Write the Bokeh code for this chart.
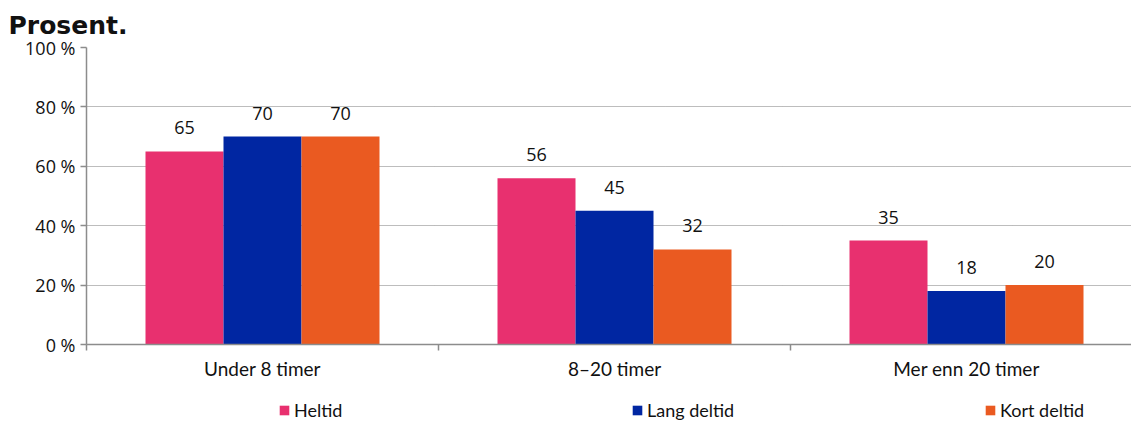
from bokeh.plotting import figure
from bokeh.layouts import column
from bokeh.models import ColumnDataSource, Range1d, FixedTicker, Legend, LegendItem, LabelSet
from bokeh.core.properties import value
from bokeh.transform import dodge
from bokeh.embed import file_html
from bokeh.resources import INLINE

categories = ["Under 8 timer", "8\u201320 timer", "Mer enn 20 timer"]
series = ["Heltid", "Lang deltid", "Kort deltid"]
heltid = [65, 56, 35]
lang_deltid = [70, 45, 18]
kort_deltid = [70, 32, 20]
colors = ["#E8306F", "#0026A2", "#EA5A21"]
y_ticks = [0, 20, 40, 60, 80, 100]
y_tick_labels = ["0 %", "20 %", "40 %", "60 %", "80 %", "100 %"]

centers = [i + 0.5 for i in range(len(categories))]
src = ColumnDataSource(dict(
    x=centers, heltid=heltid, lang=lang_deltid, kort=kort_deltid,
    lh=[str(v) for v in heltid], ll=[str(v) for v in lang_deltid], lk=[str(v) for v in kort_deltid],
))

W = 1131
LEG_H = 36
p = figure(width=W, height=421 - LEG_H, output_backend="svg", toolbar_location=None,
           x_range=Range1d(0, 1045 / 352), y_range=Range1d(0, 100),
           min_border_left=86, min_border_right=0, min_border_top=0, min_border_bottom=41)
p.outline_line_color = None
p.title.text = "Prosent."
p.title.text_font = "DejaVu Sans"
p.title.text_font_size = "25px"
p.title.text_font_style = "bold"
p.title.text_color = "#111111"
p.title.offset = -78
p.title.standoff = 16

bw = 78 / 352
fields = ["heltid", "lang", "kort"]
labs = ["lh", "ll", "lk"]
offsets = [-bw, 0, bw]
for f, lab, off, c in zip(fields, labs, offsets, colors):
    p.vbar(x=dodge("x", off, range=p.x_range), top=f, width=bw, source=src,
           fill_color=c, line_color=None)
    p.add_layout(LabelSet(x=dodge("x", off, range=p.x_range), y=f, text=lab, source=src,
                          text_align="center", text_baseline="alphabetic", y_offset=17,
                          text_font_size=value("18px"), text_font=value("Open Sans"),
                          text_color="#111111"))

# y axis
p.yaxis.ticker = FixedTicker(ticks=y_ticks)
p.yaxis.major_label_overrides = {t: l for t, l in zip(y_ticks, y_tick_labels)}
p.yaxis.major_label_text_font = "Open Sans"
p.yaxis.major_label_text_font_size = "18px"
p.yaxis.major_label_text_color = "#111111"
p.yaxis.major_tick_out = 6
p.yaxis.major_tick_in = 0
p.yaxis.minor_tick_out = 0
p.yaxis.minor_tick_in = 0
p.yaxis.axis_line_color = "#8c8c8c"
p.yaxis.axis_line_width = 1.5
p.yaxis.major_tick_line_color = "#8c8c8c"
p.yaxis.major_tick_line_width = 1.5
p.yaxis.major_label_standoff = 5

# x axis
p.xaxis.ticker = FixedTicker(ticks=centers, minor_ticks=[0, 1, 2, 3])
p.xaxis.major_label_overrides = {c: n for c, n in zip(centers, categories)}
p.xaxis.major_label_text_font = "Lato"
p.xaxis.major_label_text_font_size = "19px"
p.xaxis.major_label_text_color = "#111111"
p.xaxis.major_tick_out = 0
p.xaxis.major_tick_in = 0
p.xaxis.minor_tick_out = 6
p.xaxis.minor_tick_in = 0
p.xaxis.minor_tick_line_color = "#8c8c8c"
p.xaxis.minor_tick_line_width = 1.5
p.xaxis.axis_line_color = "#8c8c8c"
p.xaxis.axis_line_width = 1.5
p.xaxis.major_label_standoff = 6

p.xgrid.grid_line_color = None
p.ygrid.ticker = FixedTicker(ticks=y_ticks)
p.ygrid.grid_line_color = "#7a7a7a"
p.ygrid.grid_line_dash = "1 1"
p.ygrid.grid_line_width = 1

# legend strip below the chart (legend renderers are hidden copies of the bars)
pl = figure(width=W, height=LEG_H, output_backend="svg", toolbar_location=None,
            x_range=Range1d(0, 1045 / 352), y_range=Range1d(0, 100),
            min_border_left=86, min_border_right=0, min_border_top=0, min_border_bottom=0)
pl.outline_line_color = None
pl.axis.visible = False
pl.grid.visible = False
items = []
for f, off, c, name in zip(fields, offsets, colors, series):
    r = pl.vbar(x=dodge("x", off, range=pl.x_range), top=f, width=bw, source=src,
                fill_color=c, line_color=None, visible=False)
    items.append(LegendItem(label=name, renderers=[r]))
legend = Legend(items=items, orientation="horizontal", location=(192, 0),
                glyph_width=12, glyph_height=12, label_standoff=4, label_width=321,
                spacing=16, padding=0, margin=0, border_line_color=None,
                background_fill_alpha=0, inactive_fill_alpha=0, click_policy="none",
                label_text_font="Lato", label_text_font_size="18px", label_text_color="#111111")
pl.add_layout(legend, "center")

layout = column(p, pl, spacing=0)
open("out.html", "w").write(file_html(layout, INLINE))
